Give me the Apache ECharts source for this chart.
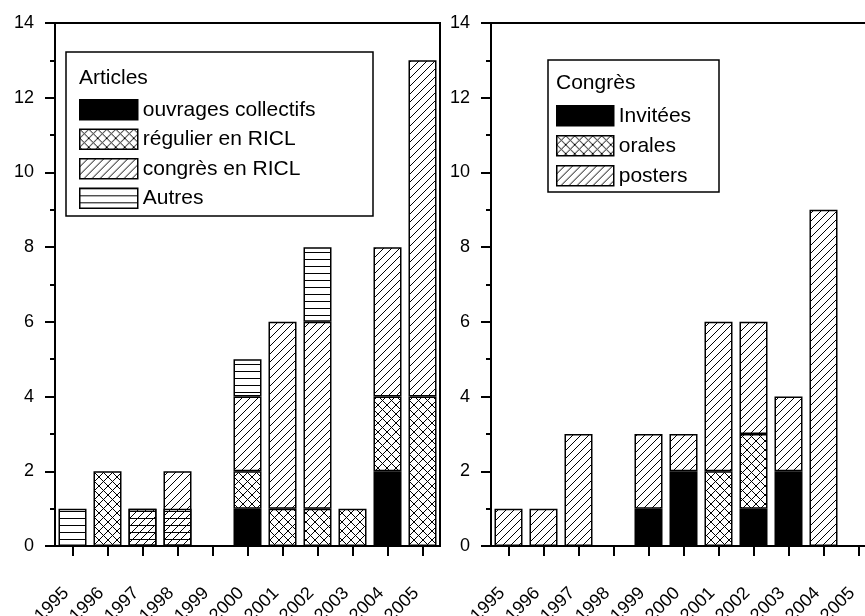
<!DOCTYPE html>
<html>
<head>
<meta charset="utf-8">
<script src="https://cdn.jsdelivr.net/npm/echarts@6/dist/echarts.min.js"></script>
<style>
html,body{margin:0;padding:0;background:#fff;}
#chart{width:865px;height:616px;}
</style>
</head>
<body>
<div id="chart"></div>
<script>
// ---- data ----
const years = ['1995','1996','1997','1998','1999','2000','2001','2002','2003','2004','2005'];
// Articles (left panel)
const ouvrages      = [null, null, null, null, null, 1, null, null, null, 2, null];
const regulier      = [null, 2, null, null, null, 1, 1, 1, 1, 2, 4];
const congresRICL   = [null, null, 1, 2, null, 2, 5, 5, null, 4, 9];
const autres        = [1, null, null, null, null, 1, null, 2, null, null, null];
const autresOverlay = [null, null, 1, 1, null, null, null, null, null, null, null];
// Congrès (right panel)
const invitees = [null, null, null, null, 1, 2, null, 1, 2, null, null];
const orales   = [null, null, null, null, null, null, 2, 2, null, null, null];
const posters  = [1, 1, 3, null, 2, 1, 4, 3, 2, 9, null];

// ---- patterns ----
function makeCanvas(w, h, draw) {
  const c = document.createElement('canvas');
  c.width = w; c.height = h;
  const ctx = c.getContext('2d');
  draw(ctx, w, h);
  return c;
}
const diagTile = makeCanvas(8, 8, (ctx, w, h) => {
  ctx.fillStyle = '#fff'; ctx.fillRect(0, 0, w, h);
  ctx.strokeStyle = '#000'; ctx.lineWidth = 1;
  ctx.beginPath();
  ctx.moveTo(-1, h + 1); ctx.lineTo(w + 1, -1);
  ctx.moveTo(-1, 1); ctx.lineTo(1, -1);
  ctx.moveTo(w - 1, h + 1); ctx.lineTo(w + 1, h - 1);
  ctx.stroke();
});
const crossTile = makeCanvas(9, 9, (ctx, w, h) => {
  ctx.fillStyle = '#fff'; ctx.fillRect(0, 0, w, h);
  ctx.strokeStyle = '#000'; ctx.lineWidth = 1;
  ctx.beginPath();
  ctx.moveTo(-1, h + 1); ctx.lineTo(w + 1, -1);
  ctx.moveTo(-1, -1); ctx.lineTo(w + 1, h + 1);
  ctx.stroke();
});
const horizTile = makeCanvas(8, 7, (ctx, w, h) => {
  ctx.clearRect(0, 0, w, h);
  ctx.strokeStyle = '#000'; ctx.lineWidth = 1;
  ctx.beginPath();
  ctx.moveTo(0, 0.5); ctx.lineTo(w, 0.5);
  ctx.stroke();
});
const diagFill  = { image: diagTile, repeat: 'repeat' };
const crossFill = { image: crossTile, repeat: 'repeat' };
const horizFill = { image: horizTile, repeat: 'repeat' };

const FONT = 'Liberation Sans, Arial, Helvetica, sans-serif';

function barSeries(name, data, fill, xi, stack) {
  return {
    type: 'bar', name: name, data: data,
    xAxisIndex: xi, yAxisIndex: xi,
    stack: stack,
    barWidth: '80%', barGap: '-100%',
    itemStyle: { color: fill, borderColor: '#000', borderWidth: 1.5 },
    emphasis: { disabled: true },
    silent: true
  };
}

function makeXAxis(gi) {
  return {
    type: 'category', gridIndex: gi, data: years,
    axisLine: { show: true, onZero: false, lineStyle: { color: '#000', width: 2 } },
    axisTick: { show: true, alignWithLabel: true, inside: false, length: 10, lineStyle: { color: '#000', width: 2 } },
    axisLabel: { interval: 0, rotate: 45, fontSize: 18, color: '#000', fontFamily: FONT, margin: 38, padding: [0, 9, 14, 0] },
    splitLine: { show: false }
  };
}
function makeYAxis(gi) {
  return {
    type: 'value', gridIndex: gi, min: 0, max: 14, interval: 2,
    axisLine: { show: true, onZero: false, lineStyle: { color: '#000', width: 2 } },
    axisTick: { show: true, inside: false, length: 10, lineStyle: { color: '#000', width: 2 } },
    minorTick: { show: true, splitNumber: 2, length: 5, lineStyle: { color: '#000', width: 2 } },
    axisLabel: { fontSize: 18, color: '#000', fontFamily: FONT, margin: 21 },
    splitLine: { show: false },
    minorSplitLine: { show: false }
  };
}

const chart = echarts.init(document.getElementById('chart'), null, { renderer: 'canvas' });
const legendText = { fontSize: 21, color: '#000', fontFamily: FONT, lineHeight: 20 };

chart.setOption({
  animation: false,
  backgroundColor: '#fff',
  title: [
    { text: 'Articles', left: 79, top: 68, padding: 0,
      textStyle: { fontSize: 21, fontWeight: 'normal', color: '#000', fontFamily: FONT } },
    { text: 'Congrès', left: 556, top: 73, padding: 0,
      textStyle: { fontSize: 21, fontWeight: 'normal', color: '#000', fontFamily: FONT } }
  ],
  legend: [
    { data: ['ouvrages collectifs', 'régulier en RICL', 'congrès en RICL', 'Autres'],
      orient: 'vertical', left: 79, top: 99, padding: 0, itemGap: 8,
      itemWidth: 58, itemHeight: 20, icon: 'rect', selectedMode: false,
      itemStyle: { borderColor: '#000', borderWidth: 1.5 },
      textStyle: legendText },
    { data: ['Invitées', 'orales', 'posters'],
      orient: 'vertical', left: 556, top: 105, padding: 0, itemGap: 8.5,
      itemWidth: 57, itemHeight: 20, icon: 'rect', selectedMode: false,
      itemStyle: { borderColor: '#000', borderWidth: 1.5 },
      textStyle: legendText }
  ],
  grid: [
    { left: 55, top: 23, width: 385, height: 523, show: true, borderColor: '#000', borderWidth: 2,
      backgroundColor: 'transparent', containLabel: false, outerBoundsMode: 'none' },
    { left: 491, top: 23, width: 385, height: 523, show: true, borderColor: '#000', borderWidth: 2,
      backgroundColor: 'transparent', containLabel: false, outerBoundsMode: 'none' }
  ],
  xAxis: [makeXAxis(0), makeXAxis(1)],
  yAxis: [makeYAxis(0), makeYAxis(1)],
  graphic: [
    { type: 'rect', shape: { x: 66, y: 52, width: 307, height: 164 },
      style: { fill: 'none', stroke: '#000', lineWidth: 1.5 }, z: 100, silent: true },
    { type: 'rect', shape: { x: 548, y: 60, width: 171, height: 132 },
      style: { fill: 'none', stroke: '#000', lineWidth: 1.5 }, z: 100, silent: true }
  ],
  series: [
    barSeries('ouvrages collectifs', ouvrages, '#000', 0, 'L'),
    barSeries('régulier en RICL', regulier, crossFill, 0, 'L'),
    barSeries('congrès en RICL', congresRICL, diagFill, 0, 'L'),
    barSeries('Autres', autres, horizFill, 0, 'L'),
    barSeries('Autres (superposé)', autresOverlay, horizFill, 0, 'O'),
    barSeries('Invitées', invitees, '#000', 1, 'R'),
    barSeries('orales', orales, crossFill, 1, 'R'),
    barSeries('posters', posters, diagFill, 1, 'R')
  ]
});
</script>
</body>
</html>
